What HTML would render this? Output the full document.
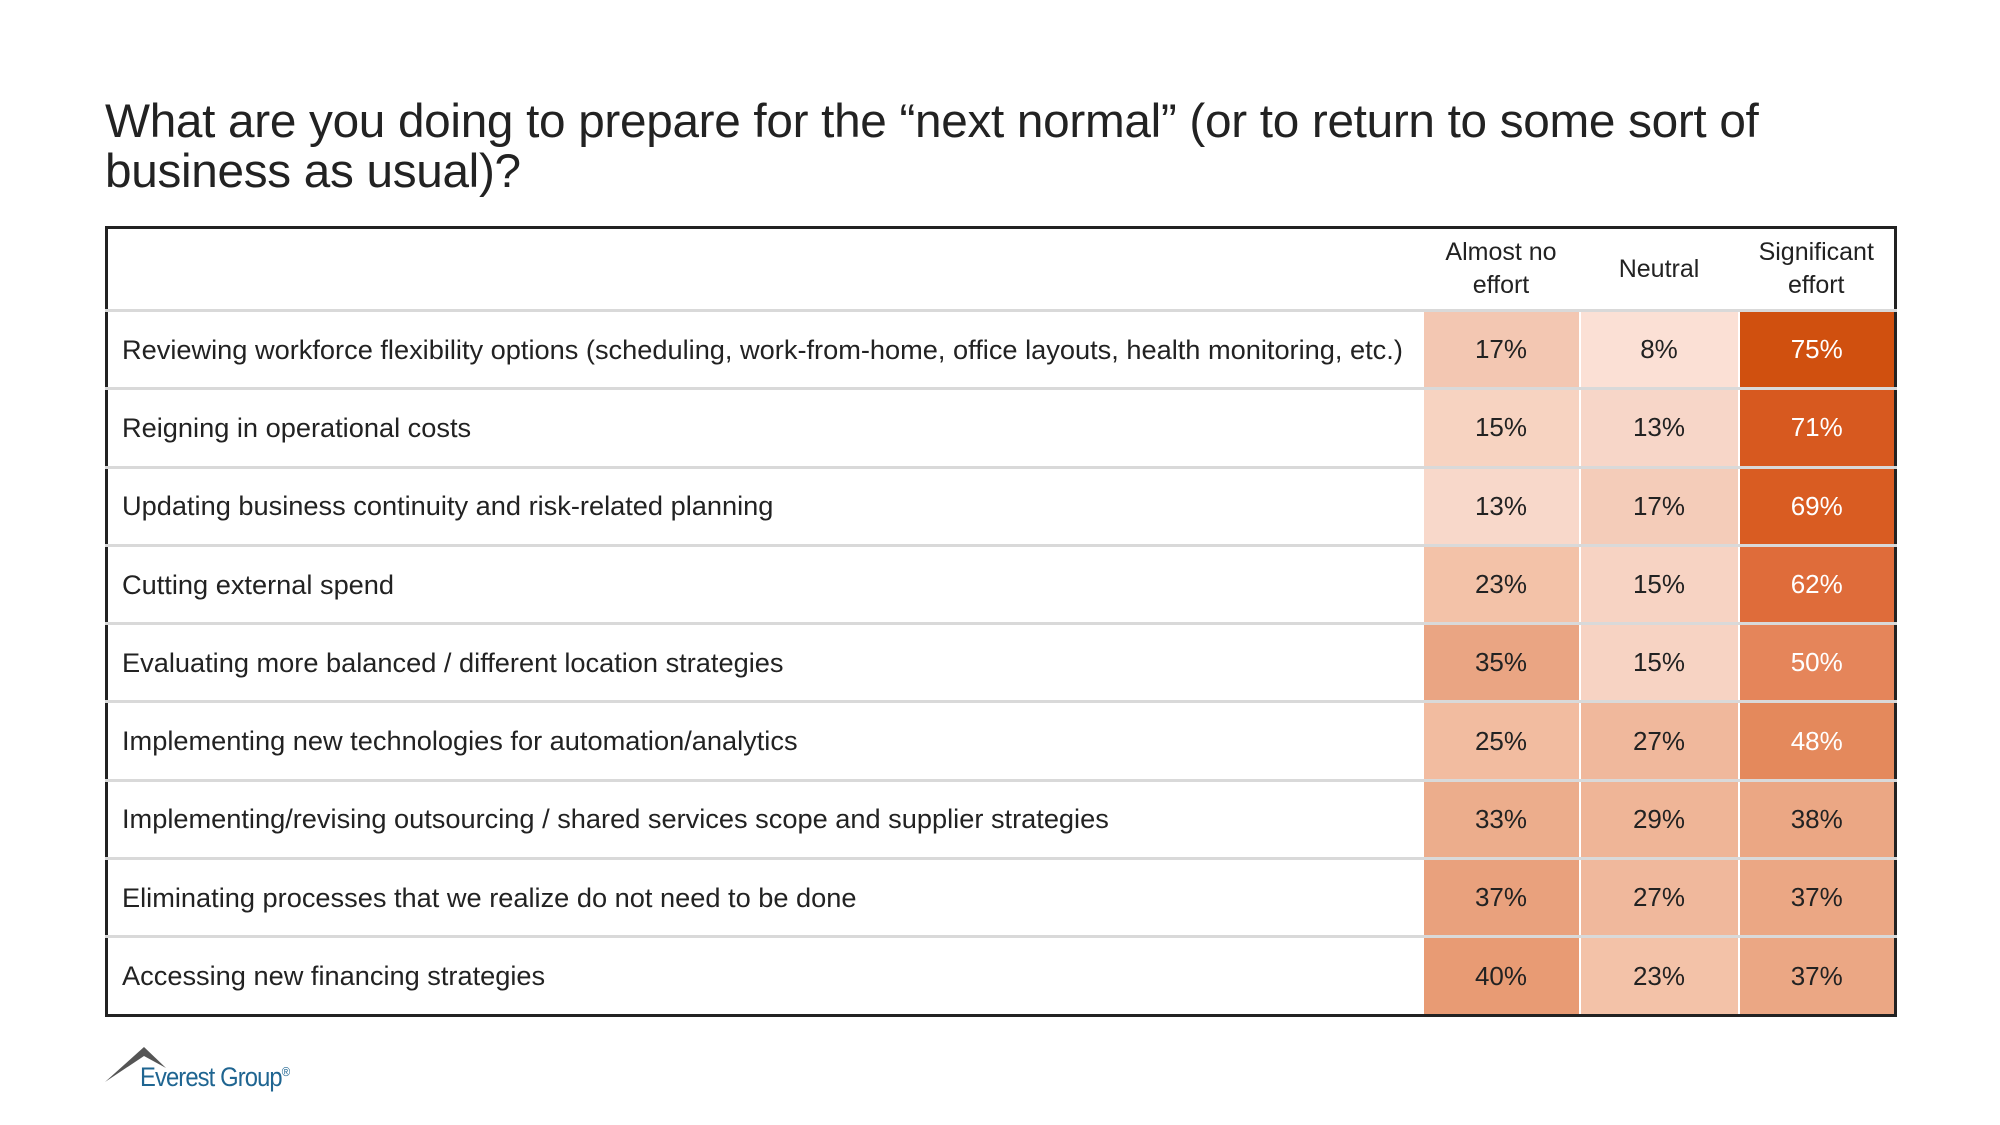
<!DOCTYPE html>
<html><head><meta charset="utf-8"><style>
body{margin:0;width:2000px;height:1125px;background:#fff;font-family:"Liberation Sans",sans-serif;color:#222;position:relative;overflow:hidden}
.title{position:absolute;left:105px;top:97px;font-size:47.7px;line-height:50px;color:#222;letter-spacing:-0.3px}
table{position:absolute;left:105px;top:226px;width:1789px;border-collapse:collapse;border:3px solid #222;table-layout:fixed}
td,th{font-size:26px;font-weight:normal;padding:0;height:75.3px;border-bottom:3px solid #d9d9d9}
th{height:80px;line-height:33px;font-size:25px}
td.l{padding-left:14px;white-space:nowrap;font-size:27.2px}
td.v{text-align:center;border-left:2px solid #fff}
tr:last-child td{border-bottom:none}
.w{color:#fff}
</style></head><body>
<div class="title">What are you doing to prepare for the “next normal” (or to return to some sort of<br>business as usual)?</div>
<table>
<colgroup><col style="width:1316px"><col style="width:157px"><col style="width:159px"><col style="width:157px"></colgroup>
<tr><th></th><th>Almost no<br>effort</th><th>Neutral</th><th>Significant<br>effort</th></tr>
<tr><td class="l">Reviewing workforce flexibility options (scheduling, work-from-home, office layouts, health monitoring, etc.)</td><td class="v" style="background:#f3c7b2">17%</td><td class="v" style="background:#fbe0d5">8%</td><td class="v w" style="background:#d0500f">75%</td></tr>
<tr><td class="l">Reigning in operational costs</td><td class="v" style="background:#f7d3c1">15%</td><td class="v" style="background:#f7d6c8">13%</td><td class="v w" style="background:#d7591f">71%</td></tr>
<tr><td class="l">Updating business continuity and risk-related planning</td><td class="v" style="background:#f8d8ca">13%</td><td class="v" style="background:#f4ccb9">17%</td><td class="v w" style="background:#d95c22">69%</td></tr>
<tr><td class="l">Cutting external spend</td><td class="v" style="background:#f3c2a8">23%</td><td class="v" style="background:#f7d3c3">15%</td><td class="v w" style="background:#df6c3a">62%</td></tr>
<tr><td class="l">Evaluating more balanced / different location strategies</td><td class="v" style="background:#eaa583">35%</td><td class="v" style="background:#f7d3c3">15%</td><td class="v w" style="background:#e5855a">50%</td></tr>
<tr><td class="l">Implementing new technologies for automation/analytics</td><td class="v" style="background:#f2bca0">25%</td><td class="v" style="background:#f0b89c">27%</td><td class="v w" style="background:#e4895c">48%</td></tr>
<tr><td class="l">Implementing/revising outsourcing / shared services scope and supplier strategies</td><td class="v" style="background:#ecad8c">33%</td><td class="v" style="background:#efb597">29%</td><td class="v" style="background:#eba784">38%</td></tr>
<tr><td class="l">Eliminating processes that we realize do not need to be done</td><td class="v" style="background:#e9a17d">37%</td><td class="v" style="background:#f0b89c">27%</td><td class="v" style="background:#eba784">37%</td></tr>
<tr><td class="l">Accessing new financing strategies</td><td class="v" style="background:#e89b74">40%</td><td class="v" style="background:#f3c2a8">23%</td><td class="v" style="background:#eba784">37%</td></tr>
</table>
<svg style="position:absolute;left:100px;top:1040px" width="70" height="50"><polygon points="5,42 44,7 66,28 44,16" fill="#555"/></svg>
<div style="position:absolute;left:140px;top:1062px;font-size:27px;color:#1f6591;letter-spacing:-1px;transform:scaleX(0.88);transform-origin:left">Everest Group<sup style="font-size:13px">®</sup></div>
</body></html>
